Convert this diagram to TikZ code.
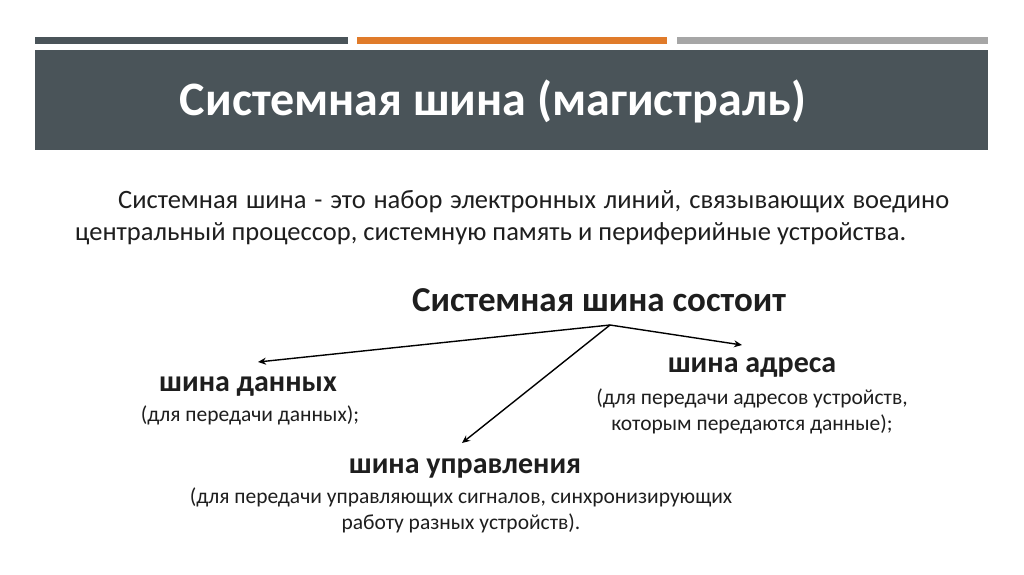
\documentclass[tikz,border=0pt]{standalone}
\usepackage{fontspec}
\setmainfont{Carlito}
\usetikzlibrary{arrows.meta}
\definecolor{band}{HTML}{4A5459}
\definecolor{bargray}{HTML}{4A5459}
\definecolor{barorange}{HTML}{E07B2A}
\definecolor{barlight}{HTML}{A6A6A6}
\definecolor{txt}{HTML}{1E1E1E}
\tikzset{
  hd/.style={font=\fontsize{30}{34}\selectfont\bfseries, text=txt},
  sub/.style={font=\fontsize{21.5}{26}\selectfont, text=txt, align=center},
  arr/.style={-{Stealth[length=8pt,width=7pt]}, line width=1.4pt, black}
}
\begin{document}
\begin{tikzpicture}[x=1pt,y=-1pt]
\useasboundingbox[fill=white] (0,0) rectangle (1024,574);
\fill[bargray] (35,37) rectangle (348,44);
\fill[barorange] (357,37) rectangle (667,44);
\fill[barlight] (677,37) rectangle (988,44);
\fill[band] (35,50) rectangle (988,150);
\node[text=white, font=\fontsize{48}{52}\selectfont\bfseries] (title) at (493,101) {Системная шина (магистраль)};
\node[text=txt, font=\fontsize{26.5}{32}\selectfont, text width=874pt, align=justify, anchor=north west, inner sep=0] (para) at (75,190)
  {\hspace*{43pt}Системная шина - это набор электронных линий, связывающих воедино центральный процессор, системную память и периферийные устройства.};
\node[font=\fontsize{35}{40}\selectfont\bfseries, text=txt] (main) at (599,300) {Системная шина состоит};
\coordinate (hub) at (610,325);
\coordinate (ad) at (258,362);
\coordinate (au) at (462,443);
\coordinate (aa) at (742,345);
\draw[arr] (hub) -- (ad);
\draw[arr] (hub) -- (au);
\draw[arr] (hub) -- (aa);
\node[hd] (d) at (248,386) {шина данных};
\node[sub] (ds) at (250,415) {(для передачи данных);};
\node[hd] (a) at (752,367) {шина адреса};
\node[sub] (as) at (752,411) {(для передачи адресов устройств,\\которым передаются данные);};
\node[hd] (u) at (465,468) {шина управления};
\node[sub] (us) at (461,510) {(для передачи управляющих сигналов, синхронизирующих\\работу разных устройств).};
\end{tikzpicture}
\end{document}
